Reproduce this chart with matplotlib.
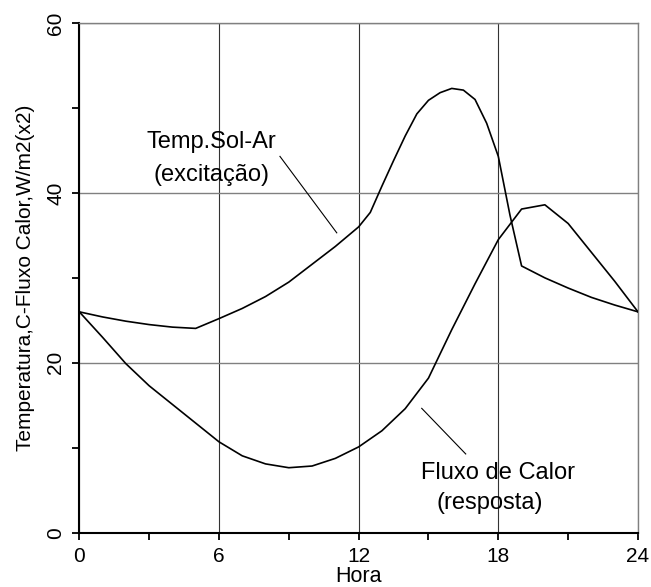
import matplotlib
matplotlib.use("Agg")
import matplotlib.pyplot as plt
from matplotlib.ticker import MultipleLocator

plt.rcParams['font.family'] = ['Liberation Sans', 'DejaVu Sans']

# Temp. Sol-Ar (excitação)
temp_hora = [0, 1, 2, 3, 4, 5, 6, 7, 8, 9, 10, 11, 12, 12.5, 13, 13.5, 14, 14.5,
             15, 15.5, 16, 16.5, 17, 17.5, 18, 18.5, 19, 20, 21, 22, 23, 24]
temp_valor = [26.0, 25.4, 24.9, 24.5, 24.2, 24.05, 25.2, 26.4, 27.8, 29.5, 31.6, 33.7,
              36.0, 37.7, 40.8, 43.8, 46.7, 49.3, 50.9, 51.8, 52.3, 52.1, 51.0, 48.2,
              44.3, 37.4, 31.4, 30.0, 28.8, 27.7, 26.8, 26.0]

# Fluxo de Calor (resposta)
fluxo_hora = list(range(0, 25))
fluxo_valor = [26.0, 23.0, 19.9, 17.3, 15.1, 12.9, 10.7, 9.05, 8.1, 7.65, 7.85, 8.75,
               10.1, 12.0, 14.6, 18.2, 23.9, 29.3, 34.5, 38.1, 38.6, 36.4, 33.0, 29.6, 26.0]

x_ticks = [0, 6, 12, 18, 24]
y_ticks = [0, 20, 40, 60]

fig = plt.figure(figsize=(6.51, 5.87), dpi=100)
ax = fig.add_axes([0.1218, 0.0925, 0.8582, 0.8683])

ax.plot(temp_hora, temp_valor, color='black', lw=1.2, zorder=3)
ax.plot(fluxo_hora, fluxo_valor, color='black', lw=1.2, zorder=3)

ax.set_xlim(0, 24)
ax.set_ylim(0, 60)
ax.set_xticks(x_ticks)
ax.set_yticks(y_ticks)
ax.xaxis.set_minor_locator(MultipleLocator(3))
ax.yaxis.set_minor_locator(MultipleLocator(10))
ax.tick_params(which='both', direction='out', length=5, width=1.3, color='black',
               labelsize=15, pad=5)
plt.setp(ax.get_yticklabels(), rotation=90, va='center')

ax.xaxis.grid(True, which='major', color='#333333', lw=0.8)
ax.yaxis.grid(True, which='major', color='#808080', lw=1.0)
ax.set_axisbelow(True)

for s in ['left', 'bottom']:
    ax.spines[s].set_linewidth(1.5)
    ax.spines[s].set_color('black')
for s in ['top', 'right']:
    ax.spines[s].set_linewidth(1.0)
    ax.spines[s].set_color('#808080')

ax.set_xlabel('Hora', fontsize=15.5)
ax.xaxis.set_label_coords(0.5, -0.0863)
ax.xaxis.label.set_va('center')
ax.set_ylabel('Temperatura,C-Fluxo Calor,W/m2(x2)', fontsize=15)
ax.yaxis.set_label_coords(-0.097, 0.5)
ax.yaxis.label.set_va('center')

# annotations
ax.text(5.69, 46.0, 'Temp.Sol-Ar', fontsize=17, ha='center', va='center')
ax.text(5.69, 42.1, '(excitação)', fontsize=17, ha='center', va='center')
ax.plot([8.62, 11.06], [44.3, 35.3], color='black', lw=0.8)

ax.text(18.0, 7.06, 'Fluxo de Calor', fontsize=17, ha='center', va='center')
ax.text(17.64, 3.46, '(resposta)', fontsize=17, ha='center', va='center')
ax.plot([14.71, 16.6], [14.64, 9.27], color='black', lw=0.8)

fig.savefig('out.png', dpi=100)
